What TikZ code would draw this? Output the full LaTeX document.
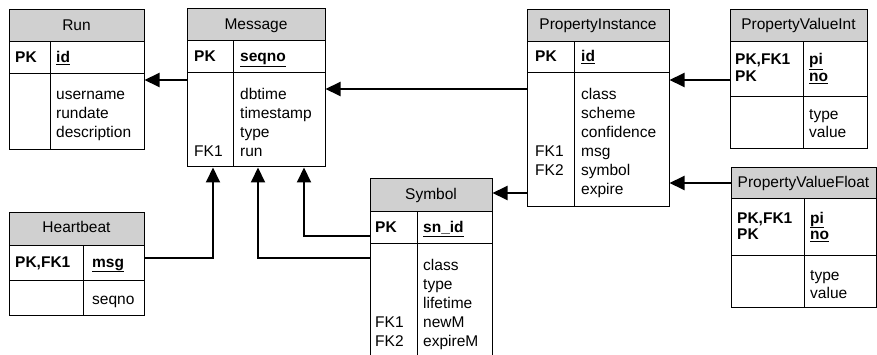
\documentclass[tikz,border=0pt]{standalone}
\usepackage{fontspec}
\setmainfont{Liberation Sans}
\usetikzlibrary{arrows.meta,fit}
\definecolor{hdr}{RGB}{208,208,208}
\tikzset{
  boxframe/.style={draw=black, line width=1pt, inner sep=0pt},
  sepline/.style={draw=black, line width=1pt},
  txt/.style={anchor=base west, inner sep=0pt, font=\fontsize{15.5}{19}\selectfont},
  htxt/.style={anchor=base, inner sep=0pt, font=\fontsize{15.5}{19}\selectfont},
  conn/.style={line width=2pt, -{Triangle[length=15pt,width=14pt]}},
}
% \erbox{name}{x1}{y1}{x2}{y2}{header bottom}{pk bottom}{divider x}
\newcommand\erbox[8]{%
  \fill[hdr] (#2,-#3) rectangle (#4,-#6);
  \draw[sepline] (#2,-#6) -- (#4,-#6);
  \draw[sepline] (#2,-#7) -- (#4,-#7);
  \draw[sepline] (#8,-#6) -- (#8,-#5);
  \node[boxframe, fit={(#2,-#3) (#4,-#5)}] (#1) {};
}
\begin{document}
\begin{tikzpicture}[x=1pt,y=1pt]
\useasboundingbox (0,0) rectangle (877,-355);
\clip (0,0) rectangle (877,-355);
\fill[white] (0,0) rectangle (877,-355);

% boxes
\erbox{run}{9}{10}{144}{150}{42}{74}{50}
\erbox{msg}{187}{9}{325}{167}{41}{73}{233}
\erbox{pi}{527}{10}{669}{207}{42}{73}{574}
\erbox{pvi}{730}{10}{867}{149}{42}{97}{803}
\erbox{pvf}{731}{168}{876}{307}{199}{255}{804}
\erbox{hb}{9}{213}{144}{315}{245}{280}{83}
\erbox{sym}{370}{179}{492}{370}{212}{243}{417}

% Run
\node[htxt] (run-h) at (76.5,-31) {Run};
\node[txt] (run-pk) at (15,-63) {\textbf{PK}};
\node[txt] (run-id) at (56,-63) {\underline{\textbf{id}}};
\node[txt] (run-b1) at (56,-100) {username};
\node[txt] (run-b2) at (56,-119) {rundate};
\node[txt] (run-b3) at (56,-138) {description};

% Message
\node[htxt] (msg-h) at (256,-30) {Message};
\node[txt] (msg-pk) at (194,-62) {\textbf{PK}};
\node[txt] (msg-id) at (240,-62) {\underline{\textbf{seqno}}};
\node[txt] (msg-b1) at (240,-100) {dbtime};
\node[txt] (msg-b2) at (240,-119) {timestamp};
\node[txt] (msg-b3) at (240,-138) {type};
\node[txt] (msg-b4) at (240,-157) {run};
\node[txt] (msg-f1) at (194,-157) {FK1};

% PropertyInstance
\node[htxt] (pi-h) at (598,-30) {PropertyInstance};
\node[txt] (pi-pk) at (535,-62) {\textbf{PK}};
\node[txt] (pi-id) at (581,-62) {\underline{\textbf{id}}};
\node[txt] (pi-b1) at (581,-100) {class};
\node[txt] (pi-b2) at (581,-119) {scheme};
\node[txt] (pi-b3) at (581,-138) {confidence};
\node[txt] (pi-b4) at (581,-157) {msg};
\node[txt] (pi-b5) at (581,-176) {symbol};
\node[txt] (pi-b6) at (581,-195) {expire};
\node[txt] (pi-f1) at (535,-157) {FK1};
\node[txt] (pi-f2) at (535,-176) {FK2};

% PropertyValueInt
\node[htxt] (pvi-h) at (798.5,-30) {PropertyValueInt};
\node[txt] (pvi-pk1) at (735,-65) {\textbf{PK,FK1}};
\node[txt] (pvi-pk2) at (735,-82) {\textbf{PK}};
\node[txt] (pvi-k1) at (809,-65) {\underline{\textbf{pi}}};
\node[txt] (pvi-k2) at (809,-82) {\underline{\textbf{no}}};
\node[txt] (pvi-b1) at (809,-120) {type};
\node[txt] (pvi-b2) at (809,-138) {value};

% PropertyValueFloat
\node[htxt] (pvf-h) at (803.5,-188) {PropertyValueFloat};
\node[txt] (pvf-pk1) at (737,-223) {\textbf{PK,FK1}};
\node[txt] (pvf-pk2) at (737,-240) {\textbf{PK}};
\node[txt] (pvf-k1) at (810,-223) {\underline{\textbf{pi}}};
\node[txt] (pvf-k2) at (810,-240) {\underline{\textbf{no}}};
\node[txt] (pvf-b1) at (810,-280) {type};
\node[txt] (pvf-b2) at (810,-298) {value};

% Heartbeat
\node[htxt] (hb-h) at (76.5,-233) {Heartbeat};
\node[txt] (hb-pk) at (15,-267) {\textbf{PK,FK1}};
\node[txt] (hb-id) at (92,-267) {\underline{\textbf{msg}}};
\node[txt] (hb-b1) at (92,-304) {seqno};

% Symbol
\node[htxt] (sym-h) at (431,-200) {Symbol};
\node[txt] (sym-pk) at (375,-233) {\textbf{PK}};
\node[txt] (sym-id) at (423,-233) {\underline{\textbf{sn\_id}}};
\node[txt] (sym-b1) at (423,-270) {class};
\node[txt] (sym-b2) at (423,-289) {type};
\node[txt] (sym-b3) at (423,-308) {lifetime};
\node[txt] (sym-b4) at (423,-327) {newM};
\node[txt] (sym-b5) at (423,-346) {expireM};
\node[txt] (sym-f1) at (375,-327) {FK1};
\node[txt] (sym-f2) at (375,-346) {FK2};

% connectors
\draw[conn] (msg.west |- 0,-80) -- (run.east |- 0,-80);
\draw[conn] (pi.west |- 0,-89) -- (msg.east |- 0,-89);
\draw[conn] (pi.west |- 0,-193) -- (sym.east |- 0,-193);
\draw[conn] (pvi.west |- 0,-80) -- (pi.east |- 0,-80);
\draw[conn] (pvf.west |- 0,-183) -- (pi.east |- 0,-183);
\draw[conn] (hb.east |- 0,-258) -| (213,0 |- msg.south);
\draw[conn] (sym.west |- 0,-258) -| (258,0 |- msg.south);
\draw[conn] (sym.west |- 0,-236) -| (304,0 |- msg.south);
\end{tikzpicture}
\end{document}
